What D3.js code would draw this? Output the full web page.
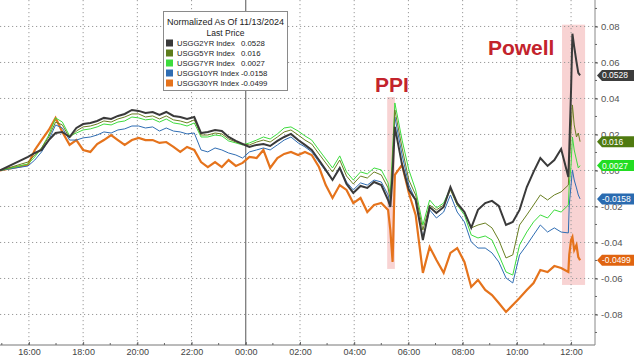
<!DOCTYPE html>
<html><head><meta charset="utf-8">
<script src="https://cdn.jsdelivr.net/npm/d3@7"></script>
<style>
body{margin:0;background:#fff;}
svg{display:block;font-family:"Liberation Sans",Arial,sans-serif;}
</style>
</head><body>
<svg id="c" width="640" height="357"></svg>
<script>
// ---------- DATA ----------
const times = ["14:56","15:58","16:13","16:28","16:44","16:59","17:14","17:30","17:45","18:00","18:16","18:31","18:46","19:02","19:17","19:32","19:48","20:03","20:18","20:34","20:49","21:04","21:20","21:35","21:50","22:06","22:21","22:36","22:52","23:07","23:22","23:38","23:53","00:08","00:24","00:39","00:54","01:10","01:25","01:40","01:56","02:11","02:26","02:42","02:57","03:12","03:28","03:43","03:58","04:14","04:29","04:44","05:00","05:15","05:20","05:25","05:30","05:46","06:01","06:16","06:32","06:47","07:02","07:18","07:33","07:48","08:04","08:19","08:34","08:50","09:05","09:20","09:36","09:51","10:06","10:22","10:37","10:52","11:08","11:23","11:38","11:54","11:56","12:00","12:03","12:07","12:12","12:16","12:20"];

const usgg2yr = [0,
 .0075,.0097,.0114,.0169,.0208,.0214,.0186,.0236,.0258,.0264,.0275,.0292,.0286,.0303,.0314,.0336,.0331,.0319,.0325,.0308,.0325,.0303,.0297,.0286,.0297,
 .0208,.0214,.0225,.0219,.0186,.0164,.0147,.0131,.0142,.0147,.0136,.0164,.0186,.0203,.0169,.0142,.0114,.0058,.0003,-.0053,.0014,-.0075,-.0125,-.0086,-.0097,-.0064,-.0081,-.0164,
 -.0203,-.0025,
 .0242,.0031,-.0108,-.0164,-.0386,-.0203,-.0236,-.0203,-.0092,-.0181,-.0231,-.0319,-.0219,-.0181,-.0169,-.0197,-.0303,-.0286,-.0219,-.0092,-.0008,.0069,.0025,.0058,.0119,-.0036,
 .0114,.0447,.0760,.0686,.0603,.0542,.0528];

const usgg5yr = [0,
 .0047,.0086,.0125,.0186,.0269,.0253,.0181,.0219,.0242,.0247,.0258,.0275,.0269,.0286,.0297,.0314,.0314,.0297,.0303,.0286,.0303,.0281,.0275,.0264,.0281,
 .0197,.0197,.0208,.0203,.0175,.0158,.0147,.0142,.0158,.0169,.0158,.0186,.0214,.0225,.0197,.0169,.0147,.0092,.0042,-.0008,.0058,-.0031,-.0075,-.0031,-.0042,-.0008,-.0025,-.0097,
 -.0164,.0058,
 .0336,.0125,-.0053,-.0136,-.0331,-.0192,-.0219,-.0192,-.0108,-.0192,-.0231,-.0319,-.0303,-.0292,-.0319,-.0386,-.0486,-.0469,-.0303,-.0247,-.0192,-.0136,-.0164,-.0136,-.0119,-.0081,
 .0031,.0225,.0364,.0253,.0186,.0208,.0160];

const usgg7yr = [0,
 .0036,.0075,.0125,.0197,.0292,.0269,.0192,.0208,.0225,.0231,.0242,.0258,.0253,.0269,.0275,.0297,.0292,.0281,.0286,.0269,.0286,.0264,.0258,.0247,.0264,
 .0186,.0186,.0197,.0192,.0164,.0153,.0142,.0153,.0169,.0186,.0175,.0203,.0236,.0242,.0219,.0192,.0169,.0114,.0064,.0014,.0081,-.0008,-.0053,-.0008,-.0019,.0014,.0003,-.0069,
 -.0136,.0114,
 .0375,.0169,.0003,-.0108,-.0303,-.0164,-.0208,-.0181,-.0097,-.0192,-.0247,-.0358,-.0375,-.0364,-.0386,-.0469,-.0564,-.0581,-.0414,-.0342,-.0286,-.0247,-.0264,-.0219,-.0231,-.0192,
 -.0081,.0031,.0186,.0114,.0058,.0014,.0027];

const usgg10yr = [0,
 .0025,.0058,.0103,.0169,.0253,.0236,.0169,.0169,.0181,.0186,.0197,.0214,.0208,.0225,.0231,.0247,.0247,.0236,.0242,.0219,.0236,.0219,.0214,.0203,.0208,
 .0114,.0103,.0125,.0114,.0097,.0086,.0069,.0103,.0114,.0125,.0114,.0142,.0169,.0186,.0153,.0131,.0103,.0047,-.0003,-.0053,.0019,-.0064,-.0108,-.0069,-.0081,-.0053,-.0064,-.0136,
 -.0192,.0031,
 .0297,.0086,-.0081,-.0164,-.0375,-.0219,-.0264,-.0231,-.0136,-.0231,-.0286,-.0397,-.0431,-.0431,-.0458,-.0508,-.0597,-.0625,-.0469,-.0414,-.0358,-.0303,-.0342,-.0319,-.0342,-.0347,
 -.0192,-.0081,.0003,-.0053,-.0097,-.0136,-.0158];

const usgg30yr = [0,
 .0031,.0114,.0169,.0225,.0292,.0214,.0142,.0169,.0114,.0103,.0147,.0169,.0197,.0169,.0142,.0169,.0181,.0169,.0169,.0153,.0158,.0131,.0103,.0131,.0114,
 .0047,.0019,.0047,.0019,.0058,.0025,.0042,.0075,.0069,.0114,.0014,.0069,.0092,.0103,.0086,.0103,.0086,.0019,-.0081,-.0153,-.0081,-.0108,-.0181,-.0153,-.0231,-.0192,-.0181,-.0219,
 -.0331,-.0508,
 -.0025,.0031,-.0125,-.0247,-.0569,-.0425,-.0497,-.0569,-.0458,-.0431,-.0508,-.0647,-.0608,-.0664,-.0692,-.0736,-.0786,-.0747,-.0708,-.0664,-.0625,-.0553,-.0564,-.0531,-.0542,-.0564,
 -.0469,-.0386,-.0369,-.0442,-.0414,-.0481,-.0499];

const seriesNames = ["USGG2YR Index","USGG5YR Index","USGG7YR Index","USGG10YR Index","USGG30YR Index"];
const lastPrices = ["0.0528","0.016","0.0027","-0.0158","-0.0499"];
const yTicks = [-0.08,-0.06,-0.04,-0.02,0,0.02,0.04,0.06,0.08];
const legendTitle = "Normalized As Of 11/13/2024";
const legendSub = "Last Price";
const events = [
  {label:"PPI", from:"05:13", to:"05:30", hi:0.0408, lo:-0.0547, tx:"04:46", ty:0.0436},
  {label:"Powell", from:"11:40", to:"12:31", hi:0.081, lo:-0.0636, tx:"08:56", ty:0.0642}
];

// ---------- HELPERS ----------
function parseTimes(arr){
  let day = 13, prev = -1;
  return arr.map(s => {
    const [h,m] = s.split(":").map(Number);
    const mm = h*60+m;
    if (prev >= 0 && mm < prev) day++;
    prev = mm;
    return new Date(2024,10,day,h,m);
  });
}
function t1(s){ const [h,m]=s.split(":").map(Number); return new Date(2024,10,h<14?14:13,h,m); }
const dates = parseTimes(times);

const colors = ["#3a3a3a","#6a7f22","#3ddc3d","#2f6db3","#e5731c"];
const legendColors = ["#3a3a3a","#5e7d1c","#3ddc3d","#2f6db3","#e5731c"];
const tagColors = ["#3c3c3c","#4f7a10","#22dd22","#2a6bb0","#e06410"];
const widths = [2,1,1,1,2.2];
const allSeries = [usgg2yr,usgg5yr,usgg7yr,usgg10yr,usgg30yr];

const W = 595, H = 345;
const x = d3.scaleTime().domain([new Date(2024,10,13,14,56), new Date(2024,10,14,12,53)]).range([0,W]);
const y = d3.scaleLinear().domain([-0.0964,0.0947]).range([344,0]);

const svg = d3.select("#c");
svg.append("rect").attr("width",640).attr("height",357).attr("fill","#fff");

// event bands
events.forEach(e=>{
  svg.append("rect")
    .attr("x", x(t1(e.from))).attr("width", x(t1(e.to))-x(t1(e.from)))
    .attr("y", y(e.hi)).attr("height", y(e.lo)-y(e.hi))
    .attr("fill","rgba(232,110,110,0.30)");
});

// grid
const gridH = svg.append("g");
yTicks.forEach(v=>{
  gridH.append("line").attr("x1",0).attr("x2",W).attr("y1",y(v)).attr("y2",y(v))
    .attr("stroke","#9a9a9a").attr("stroke-width",1).attr("stroke-dasharray","1.2,2.8");
});
const evenHours = d3.timeHour.every(2).range(new Date(2024,10,13,16,0), new Date(2024,10,14,12,1));
evenHours.forEach(d=>{
  const isMid = d.getHours()===0;
  svg.append("line").attr("x1",x(d)).attr("x2",x(d)).attr("y1",0).attr("y2",H)
    .attr("stroke", isMid ? "#555" : "#9a9a9a").attr("stroke-width",1)
    .attr("stroke-dasharray", isMid ? null : "1.2,2.8");
});

// lines
const line = d3.line().x((d,i)=>x(dates[i])).y(d=>y(d));
const order = [4,3,2,1,0];
order.forEach(i=>{
  svg.append("path").datum(allSeries[i]).attr("d",line)
    .attr("fill","none").attr("stroke",colors[i]).attr("stroke-width",widths[i])
    .attr("stroke-linejoin","miter");
});

// event labels
events.forEach(e=>{
  svg.append("text").attr("x", x(t1(e.tx))).attr("y", y(e.ty))
    .attr("font-size",21).attr("font-weight","bold").attr("fill","#c3232c").text(e.label);
});

// bottom axis
const xAxis = d3.axisBottom(x).tickValues(evenHours).tickFormat(d3.timeFormat("%H:%M"))
  .tickSize(-3).tickPadding(4);
const gx = svg.append("g").attr("transform",`translate(0,${H})`).call(xAxis);
gx.select(".domain").remove();
gx.selectAll("line").attr("stroke","#666");
gx.selectAll("text").attr("font-size",9).attr("fill","#444").attr("font-family","Liberation Sans, Arial, sans-serif");
svg.append("line").attr("x1",0).attr("x2",W).attr("y1",H).attr("y2",H).attr("stroke","#777");
d3.timeHour.every(1).range(new Date(2024,10,13,15,0), new Date(2024,10,14,12,50)).forEach(d=>{
  svg.append("line").attr("x1",x(d)).attr("x2",x(d)).attr("y1",H).attr("y2",H-2).attr("stroke","#666");
});

// right axis
const yAxis = d3.axisRight(y).tickValues(yTicks).tickFormat(d=>d.toFixed(2)).tickSize(3).tickPadding(3);
const gy = svg.append("g").attr("transform",`translate(${W},0)`).call(yAxis);
gy.select(".domain").remove();
gy.selectAll("line").attr("stroke","#555");
gy.selectAll("text").attr("font-size",9.5).attr("fill","#555").attr("font-family","Liberation Sans, Arial, sans-serif");
svg.append("line").attr("x1",W).attr("x2",W).attr("y1",0).attr("y2",H).attr("stroke","#888");
d3.range(-9,10).forEach(k=>{
  svg.append("line").attr("x1",W).attr("x2",W+2).attr("y1",y(k/100)).attr("y2",y(k/100)).attr("stroke","#666");
});

// last price tags
allSeries.forEach((s,i)=>{
  const cy = y(s[s.length-1]);
  const x0 = W+2, x1 = 634;
  svg.append("path")
    .attr("d",`M${x0},${cy} L${x0+5},${cy-5.5} L${x1},${cy-5.5} L${x1},${cy+5.5} L${x0+5},${cy+5.5} Z`)
    .attr("fill",tagColors[i]);
  svg.append("text").attr("x",x0+5).attr("y",cy+3).attr("font-size",8.5).attr("fill","#fff").text(lastPrices[i]);
});

// legend
const lg = svg.append("g");
lg.append("rect").attr("x",163.5).attr("y",11.5).attr("width",124).attr("height",79)
  .attr("fill","#fff").attr("stroke","#8a8a8a");
lg.append("text").attr("x",225.5).attr("y",25).attr("text-anchor","middle").attr("font-size",9).attr("fill","#222").text(legendTitle);
lg.append("text").attr("x",225.5).attr("y",36).attr("text-anchor","middle").attr("font-size",8.5).attr("fill","#222").text(legendSub);
seriesNames.forEach((n,i)=>{
  const cy = 43 + i*10;
  lg.append("rect").attr("x",166).attr("y",cy-3.5).attr("width",7).attr("height",7).attr("fill",legendColors[i]);
  lg.append("text").attr("x",177).attr("y",cy+3).attr("font-size",7.6).attr("fill","#222").text(n);
  lg.append("text").attr("x",241).attr("y",cy+3).attr("font-size",7.8).attr("fill","#222").text(lastPrices[i]);
});
</script>
</body></html>
